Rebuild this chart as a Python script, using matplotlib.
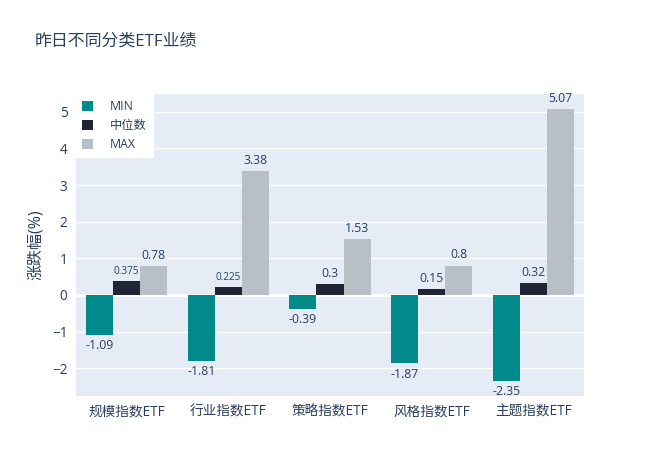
import numpy as np
import matplotlib
matplotlib.use("Agg")
from matplotlib import pyplot as plt

plt.rcParams['font.family'] = ['Open Sans', 'Noto Sans CJK SC', 'DejaVu Sans']

categories = ['规模指数ETF', '行业指数ETF', '策略指数ETF', '风格指数ETF', '主题指数ETF']
series_names = ['MIN', '中位数', 'MAX']
min_vals = [-1.09, -1.81, -0.39, -1.87, -2.35]
mid_vals = [0.375, 0.225, 0.3, 0.15, 0.32]
max_vals = [0.78, 3.38, 1.53, 0.8, 5.07]
y_ticks = [-2, -1, 0, 1, 2, 3, 4, 5]

colors = ['#008b8a', '#1f2535', '#b8bfc6']
text_color = '#2a3f5f'

fig = plt.figure(figsize=(6.6, 4.72), dpi=100)
ax = fig.add_axes([0.115, 0.161, 0.770, 0.640])
ax.set_facecolor('#e5ecf6')

x = np.arange(len(categories))
w = 0.8 / 3
for k, (name, vals, c) in enumerate(zip(series_names, [min_vals, mid_vals, max_vals], colors)):
    pos = x + (k - 1) * w
    ax.bar(pos, vals, width=w, color=c, label=name, zorder=3)
    for xi, v in zip(pos, vals):
        label = '{:g}'.format(v)
        # long labels shrink to fit the bar width
        fs = 7.2 if len(label.lstrip('-')) > 4 else 8.8
        if v >= 0:
            ax.annotate(label, (xi, v), xytext=(0, 3), textcoords='offset points',
                        ha='center', va='bottom', fontsize=fs, color=text_color, zorder=4)
        else:
            ax.annotate(label, (xi, v), xytext=(0, -3), textcoords='offset points',
                        ha='center', va='top', fontsize=fs, color=text_color, zorder=4)

ax.set_xlim(-0.5, len(categories) - 0.5)
ax.set_ylim(-2.76, 5.49)
ax.set_yticks(y_ticks)
ax.set_yticklabels([str(t) if t >= 0 else '\u2212' + str(-t) for t in y_ticks])
ax.set_xticks(x)
ax.set_xticklabels(categories)
ax.grid(axis='y', color='white', linewidth=1, zorder=0)
ax.axhline(0, color='white', linewidth=2, zorder=1)
ax.tick_params(length=0, labelsize=9.8, labelcolor=text_color, pad=6)
for s in ax.spines.values():
    s.set_visible(False)
ax.set_ylabel('涨跌幅(%)', fontsize=11.5, color=text_color, labelpad=6)

leg = ax.legend(loc='upper left', bbox_to_anchor=(0, 1), frameon=True, fancybox=False,
                framealpha=1, edgecolor='white', fontsize=8.8, handlelength=0.9,
                handleheight=0.9, borderaxespad=0, borderpad=0.5, labelspacing=0.5,
                handletextpad=1.4)
for t in leg.get_texts():
    t.set_color(text_color)

fig.text(0.053, 0.911, '昨日不同分类ETF业绩', fontsize=12.2, color=text_color, va='center')

fig.savefig('out.png', dpi=100)
